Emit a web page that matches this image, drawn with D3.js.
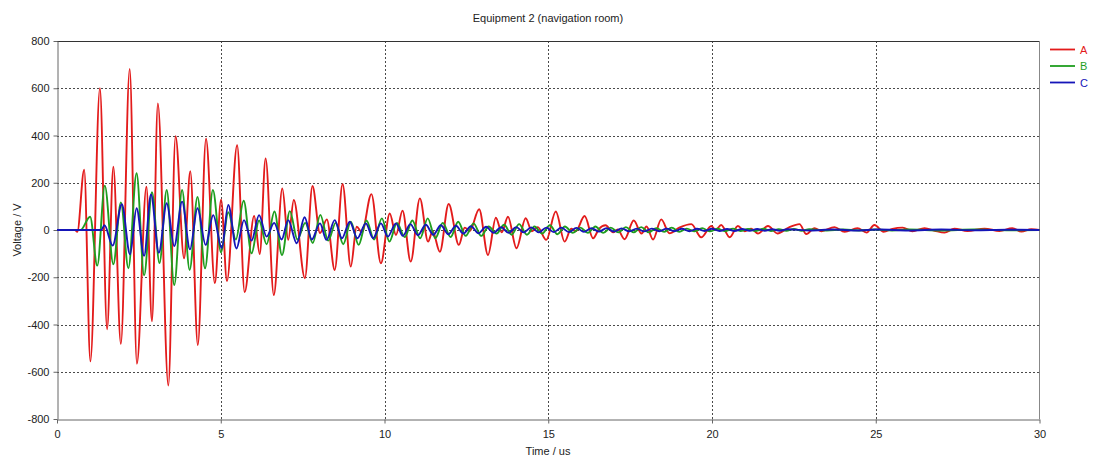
<!DOCTYPE html>
<html>
<head>
<meta charset="utf-8">
<script src="https://cdn.jsdelivr.net/npm/d3@7"></script>
<style>
  html, body { margin: 0; padding: 0; background: #fff; }
  svg { display: block; font-family: "Liberation Sans", Arial, sans-serif; }
</style>
</head>
<body>
<svg id="chart" width="1094" height="462"></svg>
<script>
// ---- chart text and ticks ----
const chartTitle = "Equipment 2 (navigation room)";
const xAxisTitle = "Time / us";
const yAxisTitle = "Voltage / V";
const xTicks = [0, 5, 10, 15, 20, 25, 30];
const yTicks = [-800, -600, -400, -200, 0, 200, 400, 600, 800];
const seriesNames = ["A", "B", "C"];
const seriesColors = ["#e31b1b", "#1f9e1f", "#1515b8"];

// ---- measured waveforms: [time (us), voltage (V)] at turning points ----
const seriesA = [
  [0,0],[0.55,0],[0.62,-8],[0.83,255],[1.02,-556],[1.31,600],[1.53,-420],[1.72,268],
  [1.95,-482],[2.22,682],[2.44,-566],[2.73,183],[2.90,-386],[3.08,536],[3.40,-658],
  [3.62,397],[3.88,-120],[4.07,249],[4.30,-487],[4.55,386],[4.82,-225],[5.01,128],
  [5.19,-216],[5.50,359],[5.73,-263],[6.02,60],[6.19,-102],[6.37,303],[6.62,-275],
  [6.88,176],[7.06,-42],[7.23,127],[7.57,-204],[7.80,186],[8.03,-13],[8.24,45],
  [8.48,-169],[8.72,195],[8.97,-155],[9.15,14],[9.31,-10],[9.60,152],[9.89,-141],
  [10.16,70],[10.35,-21],[10.55,82],[10.80,-134],[11.08,134],[11.33,-49],[11.47,-5],
  [11.69,-92],[11.96,110],[12.27,-63],[12.45,10],[12.60,-5],[12.89,88],[13.16,-106],
  [13.40,52],[13.58,-10],[13.77,56],[14.03,-77],[14.31,50],[14.50,-5],[14.68,12],
  [14.94,-42],[15.23,78],[15.50,-49],[15.70,5],[15.84,-5],[16.11,59],[16.37,-35],
  [16.55,5],[16.75,20],[16.98,-10],[17.12,2],[17.33,-39],[17.61,40],[17.85,-15],
  [18.00,15],[18.20,-40],[18.45,45],[18.70,-14],[19.00,10],[19.37,25],[19.67,-31],
  [19.98,17],[20.11,0],[20.28,21],[20.54,-31],[20.79,17],[21.00,-5],[21.20,5],
  [21.40,-15],[21.71,17],[22.00,-15],[22.34,10],[22.67,25],[22.88,-17],[23.13,8],
  [23.34,-5],[23.74,12],[24.05,-8],[24.44,8],[24.72,-11],[24.96,21],[25.24,-8],
  [25.51,5],[25.82,10],[26.12,-5],[26.49,8],[26.80,-3],[27.10,-11],[27.40,6],
  [27.80,-4],[28.32,6],[28.78,-4],[29.17,8],[29.45,-7],[29.75,3],[30,0]
];

const seriesB = [
  [0,0],[0.72,0],[1.01,56],[1.23,-151],[1.46,188],[1.72,-145],[1.95,117],[2.18,-162],
  [2.43,240],[2.66,-192],[2.90,160],[3.13,-140],[3.35,169],[3.58,-233],[3.82,169],
  [4.05,-169],[4.29,140],[4.52,-162],[4.76,169],[5.01,-95],[5.23,75],[5.46,-40],
  [5.70,124],[5.94,-99],[6.17,40],[6.40,-60],[6.64,78],[6.87,-106],[7.11,80],
  [7.34,-40],[7.58,30],[7.81,-55],[8.04,64],[8.28,-45],[8.51,30],[8.74,-60],
  [8.97,35],[9.21,-63],[9.45,40],[9.68,-40],[9.92,49],[10.15,-49],[10.38,30],
  [10.62,-30],[10.85,40],[11.09,-35],[11.32,49],[11.55,-35],[11.78,30],[12.02,-30],
  [12.25,35],[12.48,-25],[12.72,28],[12.95,-25],[13.18,15],[13.42,-15],[13.65,22],
  [13.88,-20],[14.11,25],[14.35,-20],[14.58,15],[14.81,-15],[15.05,20],[15.28,-18],
  [15.51,15],[15.75,-12],[15.98,10],[16.21,-12],[16.44,15],[16.68,-12],[16.91,10],
  [17.14,-10],[17.37,12],[17.61,-10],[17.84,12],[18.07,-10],[18.30,8],[18.54,-8],
  [18.77,10],[19.00,-8],[19.23,6],[19.47,-6],[19.70,8],[19.93,-6],[20.17,5],
  [20.40,-5],[20.64,6],[20.87,-4],[21.10,4],[21.34,-4],[21.57,5],[21.80,-4],
  [22.04,3],[22.27,-3],[22.50,4],[22.74,-3],[22.97,3],[23.5,-2],[24.0,2],[24.5,-2],
  [25.0,2],[25.5,-2],[26.0,2],[27.0,-2],[28.0,2],[29.0,-1],[30,0]
];

const seriesC = [
  [0,0],[1.35,0],[1.45,20],[1.70,-66],[1.98,109],[2.23,-103],[2.43,92],[2.66,-109],
  [2.87,150],[3.11,-96],[3.35,113],[3.58,-68],[3.82,120],[4.06,-82],[4.29,92],
  [4.54,-63],[4.77,63],[5.03,-76],[5.23,106],[5.48,-78],[5.71,42],[5.94,-45],
  [6.17,63],[6.40,-28],[6.63,30],[6.86,-40],[7.06,42],[7.32,-56],[7.56,54],
  [7.78,-40],[8.03,28],[8.23,-42],[8.48,42],[8.70,-35],[8.94,35],[9.17,-35],
  [9.43,28],[9.65,-35],[9.89,28],[10.10,-28],[10.35,28],[10.56,-25],[10.79,25],
  [11.02,-22],[11.26,22],[11.49,-20],[11.72,20],[11.95,-18],[12.18,18],[12.41,-15],
  [12.64,16],[12.87,-14],[13.10,14],[13.33,-12],[13.56,12],[13.79,-12],[14.02,12],
  [14.25,-10],[14.48,11],[14.71,-10],[14.94,10],[15.17,-9],[15.40,10],[15.63,-9],
  [15.86,9],[16.09,-8],[16.32,8],[16.55,-7],[16.78,8],[17.01,-7],[17.24,7],
  [17.47,-6],[17.70,6],[17.93,-6],[18.16,6],[18.39,-5],[18.62,6],[18.85,-5],
  [19.08,5],[19.31,-5],[19.54,5],[19.77,-4],[20.00,5],[20.23,-4],[20.46,4],
  [20.69,-4],[20.92,4],[21.15,-3],[21.38,4],[21.61,-3],[21.84,3],[22.07,-3],
  [22.30,3],[23.0,-2],[23.7,2],[24.4,-2],[25.1,2],[26.0,-2],[27.0,2],[28.0,-1],
  [29.0,1],[30,0]
];

const allSeries = [seriesA, seriesB, seriesC];

// ---- layout ----
const svg = d3.select("#chart");
const plot = { left: 57, right: 1039.5, top: 41, bottom: 419 };

const x = d3.scaleLinear().domain([0, 30]).range([plot.left, plot.right]);
const y = d3.scaleLinear().domain([-800, 800]).range([plot.bottom, plot.top]);

// dotted grid
const grid = svg.append("g").attr("stroke", "#4a4a4a").attr("stroke-width", 1)
  .attr("stroke-dasharray", "2,2");
grid.selectAll("line.h").data(yTicks.slice(1, -1)).join("line")
  .attr("x1", plot.left).attr("x2", plot.right)
  .attr("y1", d => Math.round(y(d)) + 0.5).attr("y2", d => Math.round(y(d)) + 0.5);
grid.selectAll("line.v").data(xTicks.slice(1, -1)).join("line")
  .attr("y1", plot.top).attr("y2", plot.bottom)
  .attr("x1", d => Math.round(x(d)) + 0.5).attr("x2", d => Math.round(x(d)) + 0.5);

// frame on the top and right
svg.append("line").attr("x1", plot.left).attr("x2", plot.right)
  .attr("y1", plot.top + 0.5).attr("y2", plot.top + 0.5).attr("stroke", "#333");
svg.append("line").attr("x1", plot.right).attr("x2", plot.right)
  .attr("y1", plot.top).attr("y2", plot.bottom).attr("stroke", "#888");

// axes (plain hyphen for negative labels)
const plainLabel = d => String(d);
const yAxis = svg.append("g").attr("transform", `translate(${plot.left + 0.5},0)`)
  .call(d3.axisLeft(y).tickValues(yTicks).tickFormat(plainLabel)
    .tickSize(4).tickPadding(4).tickSizeOuter(0));
const xAxis = svg.append("g").attr("transform", `translate(0,${plot.bottom + 0.5})`)
  .call(d3.axisBottom(x).tickValues(xTicks).tickFormat(plainLabel)
    .tickSize(4).tickPadding(7).tickSizeOuter(0));
[xAxis, yAxis].forEach(g => {
  g.select(".domain").attr("stroke", "#666");
  g.selectAll(".tick line").attr("stroke", "#666");
  g.selectAll(".tick text").attr("fill", "#222").attr("font-size", 11)
    .attr("font-family", "Liberation Sans, Arial, sans-serif");
});

// waveforms
const line = d3.line()
  .x(d => x(d[0]))
  .y(d => y(d[1]))
  .curve(d3.curveMonotoneX);

svg.append("g").selectAll("path").data(allSeries).join("path")
  .attr("d", line)
  .attr("fill", "none")
  .attr("stroke", (d, i) => seriesColors[i])
  .attr("stroke-width", 1.9)
  .attr("stroke-linejoin", "round");

// titles
svg.append("text").attr("x", 548).attr("y", 22).attr("text-anchor", "middle")
  .attr("font-size", 11).attr("fill", "#222").text(chartTitle);
svg.append("text").attr("x", 548).attr("y", 455).attr("text-anchor", "middle")
  .attr("font-size", 11).attr("fill", "#222").text(xAxisTitle);
svg.append("text").attr("transform", "translate(21,230) rotate(-90)")
  .attr("text-anchor", "middle").attr("font-size", 11).attr("fill", "#222").text(yAxisTitle);

// legend
const legend = svg.append("g").selectAll("g").data(seriesNames).join("g")
  .attr("transform", (d, i) => `translate(1050,${49.5 + i * 16.5})`);
legend.append("line").attr("x1", 0).attr("x2", 25).attr("y1", 0).attr("y2", 0)
  .attr("stroke", (d, i) => seriesColors[i]).attr("stroke-width", 1.8);
legend.append("text").attr("x", 30).attr("y", 4).attr("font-size", 11)
  .attr("fill", (d, i) => seriesColors[i]).text(d => d);
</script>
</body>
</html>
